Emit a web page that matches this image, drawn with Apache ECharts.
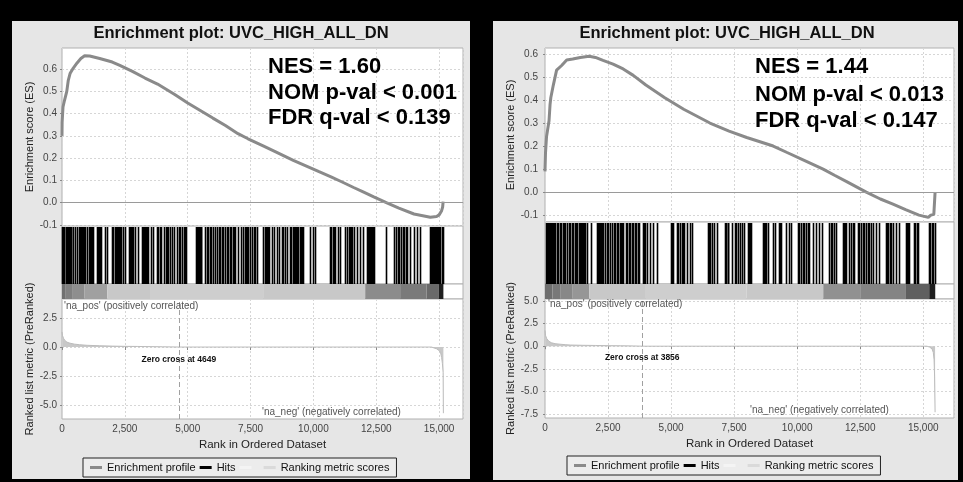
<!DOCTYPE html>
<html>
<head>
<meta charset="utf-8">
<script src="https://cdn.jsdelivr.net/npm/echarts@6/dist/echarts.min.js"></script>
<style>html,body{margin:0;padding:0;background:#000}#c{width:963px;height:482px}</style>
</head>
<body>
<div id="c"></div>
<script>
// ---------------- DATA ----------------
const titleText = 'Enrichment plot: UVC_HIGH_ALL_DN';
const xTicks = [0, 2500, 5000, 7500, 10000, 12500, 15000];
const esTicks = [-0.1, 0, 0.1, 0.2, 0.3, 0.4, 0.5, 0.6];
const metricTicksL = [-5, -2.5, 0, 2.5];
const metricTicksR = [-7.5, -5, -2.5, 0, 2.5, 5];

const nesL = ['NES = 1.60', 'NOM p-val < 0.001', 'FDR q-val < 0.139'];
const nesR = ['NES = 1.44', 'NOM p-val < 0.013', 'FDR q-val < 0.147'];
const zeroCrossL = 4649;
const zeroCrossR = 3856;
const listSizeL = 15170;
const listSizeR = 15476;

// Enrichment score running sum (rank, ES)
const esRankL = [0,5,40,100,190,250,320,450,600,750,900,1100,1500,2000,2300,2800,3300,3800,4500,5000,5500,6000,6500,7000,7400,8000,8500,9200,9700,10200,10700,11100,11600,12000,12400,12900,13400,14000,14400,14650,14900,15000,15100,15140,15160];
const esValL  = [0.30,0.36,0.43,0.46,0.50,0.55,0.58,0.605,0.628,0.648,0.66,0.659,0.648,0.632,0.617,0.59,0.56,0.533,0.485,0.448,0.414,0.38,0.347,0.31,0.287,0.255,0.228,0.19,0.165,0.14,0.116,0.095,0.068,0.047,0.026,0.0,-0.025,-0.051,-0.06,-0.066,-0.062,-0.055,-0.036,-0.02,0.005];

const esRankR = [0,20,60,130,160,200,230,330,460,660,860,1100,1400,1750,2000,2300,2700,3100,3500,4000,4750,5500,6540,7300,8000,9050,9600,10300,11030,11500,12000,12740,13300,13800,14300,14830,15200,15300,15420,15470];
const esValR  = [0.09,0.17,0.24,0.24,0.31,0.38,0.41,0.465,0.53,0.55,0.574,0.578,0.585,0.59,0.585,0.572,0.556,0.535,0.507,0.465,0.41,0.36,0.3,0.265,0.237,0.2,0.172,0.137,0.1,0.072,0.043,0.0,-0.03,-0.052,-0.076,-0.1,-0.11,-0.1,-0.097,0.0];

// Hit positions (rank of each gene set member)
const hitsL = [10,40,80,140,160,185,205,230,250,275,300,320,345,365,438,530,597,670,700,730,760,790,820,850,880,900,1006,1060,1120,1150,1185,1220,1410,1450,1490,1530,1560,1700,1800,2005,2040,2090,2165,2200,2240,2280,2320,2355,2425,2490,2670,2710,2750,2790,2825,2920,3025,3200,3240,3280,3320,3360,3400,3420,3530,3620,3770,3830,3890,3950,4060,4130,4180,4230,4280,4375,4455,4590,4650,4700,4790,4850,4900,4950,5320,5360,5400,5440,5480,5520,5545,5680,5750,5820,5880,5940,6000,6070,6180,6240,6300,6350,6410,6480,6550,6620,6680,6740,6805,6840,6870,7000,7110,7210,7260,7310,7360,7405,7480,7550,7620,7690,7750,8010,8060,8110,8160,8210,8250,8345,8440,8545,8650,8745,8810,8880,8945,9075,9120,9170,9220,9270,9310,9340,9405,9450,9500,9550,9605,9870,9975,10070,10665,10710,10760,10810,10865,10960,11065,11265,11330,11400,11460,11500,11550,11595,11730,11860,11990,12130,12170,12210,12260,12300,12340,12380,12420,12895,13215,13280,13350,13420,13490,13560,13620,13690,13720,13850,13985,14115,14250,14645,14680,14720,14760,14800,14840,14880,14920,14960,15000,15045,15100,15140];
const hitsR = [40,80,120,160,200,240,280,320,360,395,463,530,600,650,700,750,790,885,965,1010,1055,1125,1170,1215,1255,1360,1400,1440,1480,1520,1560,1586,1652,1810,2050,2090,2130,2180,2220,2260,2310,2380,2445,2510,2580,2650,2720,2790,2850,2906,2975,3020,3060,3105,3211,3260,3320,3370,3440,3500,3560,3620,3680,3740,3900,3940,3985,4030,4163,4270,4427,4985,5040,5088,5220,5280,5353,5420,5470,5511,5617,5750,5815,6450,6500,6550,6608,6700,6830,7140,7190,7240,7270,7400,7533,7573,7650,7730,7810,7900,8035,8080,8125,8168,8632,8680,8730,8780,8830,9028,9133,9265,9310,9357,9555,9661,9754,10020,10080,10150,10216,10282,10350,10420,10480,10613,10745,10877,10983,11273,11330,11400,11470,11538,11804,11850,11900,11935,12066,12130,12200,12264,12396,12460,12530,12600,12660,12730,12793,12858,12920,12990,13124,13255,13520,13570,13620,13680,13730,13785,13917,14050,14314,14360,14400,14446,14644,14690,14740,14777,15213,15270,15330,15400,15470];

// Ranked-list heat strip: segment start ranks and grey level (0 = black, 255 = white)
const stripStartL = [0,150,400,900,1800,3500,8000,12060,13450,14500,14980];
const stripLevelL = [112,128,142,160,200,206,200,140,122,106,30];
const stripStartR = [0,300,600,1100,1760,4000,8000,11035,12500,14314,15238];
const stripLevelR = [110,120,135,150,200,206,200,145,132,95,30];

// Ranked list metric (rank, metric)
const metricRankL = [0,20,60,120,200,320,500,700,1000,1500,2000,2500,3000,3300,4000,4649,14700,14800,14900,15000,15060,15100,15130,15160,15170];
const metricValL  = [1.3,1.0,0.75,0.55,0.42,0.33,0.25,0.2,0.15,0.11,0.08,0.06,0.05,0.04,0.02,0,0,-0.08,-0.15,-0.3,-0.5,-0.9,-1.4,-2.2,-5.7];
const metricRankR = [0,20,66,150,264,400,595,800,1000,1500,2000,2500,3000,3500,3856,15150,15250,15350,15400,15430,15450,15470];
const metricValR  = [1.75,1.2,0.85,0.55,0.37,0.28,0.22,0.17,0.13,0.1,0.08,0.06,0.05,0.03,0,0,-0.1,-0.3,-0.7,-1.5,-3.3,-7.3];

const legendNames = ['Enrichment profile', 'Hits', '\u00a0', 'Ranking metric scores'];

// ---------------- LAYOUT / STYLE ----------------
const FONT = '"Liberation Sans", Arial, Helvetica, sans-serif';
const BORDER = '#b0b0b0';
const GRIDC = '#d6d6d6';
const PANEL_BG = '#e6e6e6';

const panels = [
  { frame:[12,21,458,458], plotL:62, plotW:401, es:[48,178], hits:[226,58], strip:[284,15], metric:[299,120],
    xMax:15950, esMin:-0.105, esMax:0.695, mMin:-6.2, mMax:4.14, mTicks:metricTicksL, labelMargin:5,
    legendLeft:83, legendTop:458, titleX:241, nesX:268, nesY:[67,93,118],
    posX:64, posY:306, zcTextY:-1.12, negX:262, negY:412,
    esRank:esRankL, esVal:esValL, hitsArr:hitsL, stripStart:stripStartL, stripLevel:stripLevelL, N:listSizeL,
    mRank:metricRankL, mVal:metricValL, zc:zeroCrossL, nes:nesL },
  { frame:[493,21,465,459], plotL:545, plotW:409, es:[48,174], hits:[222,62], strip:[284,15], metric:[299,119],
    xMax:16220, esMin:-0.13, esMax:0.626, mMin:-7.94, mMax:5.22, mTicks:metricTicksR, labelMargin:7,
    legendLeft:567, legendTop:456, titleX:727, nesX:755, nesY:[67,95,121],
    posX:548, posY:304, zcTextY:-1.31, negX:750, negY:410,
    esRank:esRankR, esVal:esValR, hitsArr:hitsR, stripStart:stripStartR, stripLevel:stripLevelR, N:listSizeR,
    mRank:metricRankR, mVal:metricValR, zc:zeroCrossR, nes:nesR }
];

const grid = [], xAxis = [], yAxis = [], series = [], graphic = [], legend = [];
const zip = (a, b) => a.map((v, i) => [v, b[i]]);

panels.forEach((P, k) => {
  const g0 = k * 4;
  const boxes = [P.es, P.hits, P.strip, P.metric];
  boxes.forEach(b => grid.push({ left:P.plotL, top:b[0], width:P.plotW, height:b[1], show:true,
    backgroundColor:'#fff', borderColor:BORDER, borderWidth:1, containLabel:false }));

  for (let i = 0; i < 4; i++) {
    const isBottom = i === 3;
    xAxis.push({ type:'value', gridIndex:g0+i, min:0, max:P.xMax, interval:2500,
      show: i === 0 || i === 3,
      axisLine:{show:false},
      axisTick:{show:isBottom, length:3, lineStyle:{color:'#888'}},
      axisLabel:{show:isBottom, showMaxLabel:false, fontSize:10, color:'#444', fontFamily:FONT, margin:5,
        formatter: v => v.toLocaleString('en-US')},
      splitLine:{show:true, lineStyle:{type:[2,2], color:GRIDC}},
      name: isBottom ? 'Rank in Ordered Dataset' : '', nameLocation:'middle', nameGap:20,
      nameTextStyle:{fontSize:11.5, color:'#222', fontFamily:FONT} });
  }
  // ES y axis
  yAxis.push({ type:'value', gridIndex:g0, min:P.esMin, max:P.esMax,
    axisLine:{show:false},
    axisTick:{show:true, length:2, customValues:esTicks, lineStyle:{color:'#888'}},
    axisLabel:{customValues:esTicks, formatter:v => v.toFixed(1), fontSize:10, color:'#444', fontFamily:FONT, margin:P.labelMargin},
    splitLine:{show:true, lineStyle:{type:[2,2], color:GRIDC}},
    name:'Enrichment score (ES)', nameLocation:'middle', nameGap:26,
    nameTextStyle:{fontSize:11, color:'#222', fontFamily:FONT} });
  yAxis.push({ type:'value', gridIndex:g0+1, min:0, max:1, show:false });
  yAxis.push({ type:'value', gridIndex:g0+2, min:0, max:1, show:false });
  yAxis.push({ type:'value', gridIndex:g0+3, min:P.mMin, max:P.mMax,
    axisLine:{show:false},
    axisTick:{show:true, length:2, customValues:P.mTicks, lineStyle:{color:'#888'}},
    axisLabel:{customValues:P.mTicks, formatter:v => v.toFixed(1), fontSize:10, color:'#444', fontFamily:FONT, margin:P.labelMargin},
    splitLine:{show:true, lineStyle:{type:[2,2], color:GRIDC}},
    name:'Ranked list metric (PreRanked)', nameLocation:'middle', nameGap:26,
    nameTextStyle:{fontSize:11, color:'#222', fontFamily:FONT} });

  // Enrichment profile
  series.push({ type:'line', name:'Enrichment profile', xAxisIndex:g0, yAxisIndex:g0,
    data: zip(P.esRank, P.esVal), symbol:'none', z:4,
    itemStyle:{color:'#8a8a8a'}, lineStyle:{color:'#8a8a8a', width:3},
    markLine:{silent:true, symbol:'none', label:{show:false}, animation:false,
      lineStyle:{color:'#9a9a9a', type:'solid', width:1}, data:[{yAxis:0}]} });
  // blank legend entry
  series.push({ type:'line', name:'\u00a0', xAxisIndex:g0, yAxisIndex:g0, data:[], itemStyle:{color:'#f2f2f2'} });
  // Hits
  series.push({ type:'custom', name:'Hits', xAxisIndex:g0+1, yAxisIndex:g0+1,
    data: P.hitsArr.map(h => [h, 1]), itemStyle:{color:'#000'},
    encode:{x:0, y:1},
    renderItem:(params, api) => {
      const top = api.coord([api.value(0), 1]);
      const bot = api.coord([api.value(0), 0]);
      const x = Math.round(top[0]);
      return { type:'rect', shape:{x:x - 0.3, y:Math.round(top[1]) + 1, width:1.6, height:Math.round(bot[1]) - Math.round(top[1]) - 1},
        style:{fill:'#000'} };
    } });
  // Heat strip
  series.push({ type:'custom', xAxisIndex:g0+2, yAxisIndex:g0+2,
    data: P.stripStart.map((s, i) => [s, i + 1 < P.stripStart.length ? P.stripStart[i+1] : P.N, P.stripLevel[i]]),
    encode:{x:[0,1]},
    renderItem:(params, api) => {
      const a = api.coord([api.value(0), 1]);
      const b = api.coord([api.value(1), 0]);
      const g = Math.round(api.value(2));
      return { type:'rect', shape:{x:a[0], y:a[1], width:b[0]-a[0], height:b[1]-a[1]},
        style:{fill:'rgb(' + g + ',' + g + ',' + g + ')'} };
    } });
  // Ranking metric
  series.push({ type:'line', name:'Ranking metric scores', xAxisIndex:g0+3, yAxisIndex:g0+3,
    data: zip(P.mRank, P.mVal), symbol:'none', z:3,
    itemStyle:{color:'#c4c4c4'}, lineStyle:{color:'#bcbcbc', width:1},
    areaStyle:{color:'#c8c8c8', opacity:1},
    markLine:{silent:true, symbol:'none', label:{show:false}, animation:false,
      lineStyle:{color:'#a0a0a0', type:[5,3], width:1}, data:[{xAxis:P.zc}]},
    markPoint:{silent:true, animation:false, symbol:'rect', symbolSize:1,
      itemStyle:{color:'rgba(0,0,0,0)'},
      label:{show:true, position:'inside', formatter:'Zero cross at ' + P.zc,
        fontSize:8.5, fontWeight:'bold', color:'#111', fontFamily:FONT},
      data:[{coord:[P.zc, P.zcTextY]}]} });

  // graphics
  graphic.push({ type:'rect', z:-10, shape:{x:P.frame[0], y:P.frame[1], width:P.frame[2], height:P.frame[3]},
    style:{fill:PANEL_BG} });
  graphic.push({ type:'text', z:100, x:P.titleX, y:33, style:{text:titleText, align:'center', verticalAlign:'middle',
    fontSize:16.5, fontWeight:'bold', fontFamily:FONT, fill:'#111'} });
  P.nes.forEach((t, i) => graphic.push({ type:'text', z:100, x:P.nesX, y:P.nesY[i],
    style:{text:t, align:'left', verticalAlign:'middle', fontSize:22, fontWeight:'bold', fontFamily:FONT, fill:'#000'} }));
  graphic.push({ type:'text', z:100, x:P.posX, y:P.posY, style:{text:"'na_pos' (positively correlated)",
    align:'left', verticalAlign:'middle', fontSize:10, fontFamily:FONT, fill:'#555'} });
  graphic.push({ type:'text', z:100, x:P.negX, y:P.negY, style:{text:"'na_neg' (negatively correlated)",
    align:'left', verticalAlign:'middle', fontSize:10, fontFamily:FONT, fill:'#555'} });

  legend.push({ left:P.legendLeft, top:P.legendTop, orient:'horizontal', selectedMode:false,
    padding:[4,7], itemGap:4, itemWidth:12, itemHeight:3, icon:'rect',
    borderColor:'#222', borderWidth:1, backgroundColor:'#ececec',
    textStyle:{fontSize:11, color:'#111', fontFamily:FONT},
    data: [
      {name:legendNames[0], itemStyle:{color:'#8a8a8a'}},
      {name:legendNames[1], itemStyle:{color:'#000'}},
      {name:legendNames[2], itemStyle:{color:'#f4f4f4'}},
      {name:legendNames[3], itemStyle:{color:'#dadada'}}
    ] });
});

const chart = echarts.init(document.getElementById('c'), null, {renderer:'canvas', width:963, height:482});
chart.setOption({
  backgroundColor:'#000',
  animation:false,
  textStyle:{fontFamily:FONT},
  grid, xAxis, yAxis, series, graphic, legend
});
</script>
</body>
</html>
